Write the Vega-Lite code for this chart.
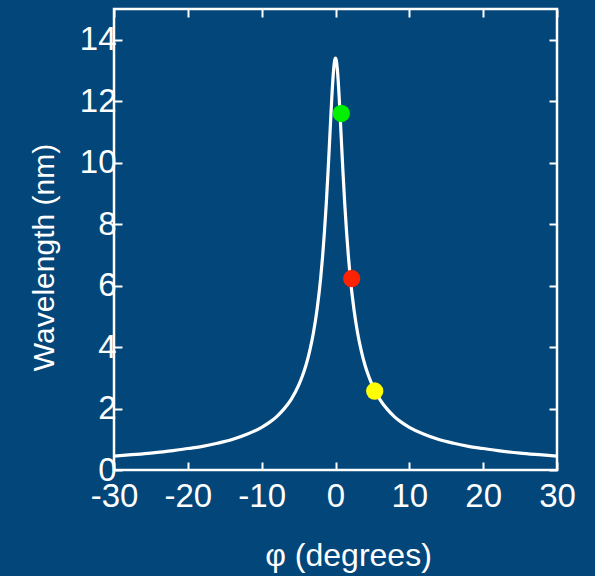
{
  "$schema": "https://vega.github.io/schema/vega-lite/v6.json",
  "width": 443,
  "height": 461,
  "autosize": "none",
  "padding": {"left": 114, "top": 9, "right": 38, "bottom": 106},
  "background": "#03467a",
  "config": {
    "view": {"stroke": "white", "strokeWidth": 2.5},
    "axis": {
      "labelColor": "white",
      "titleColor": "white",
      "tickColor": "white",
      "tickWidth": 2,
      "tickSize": -8,
      "domain": false,
      "grid": false,
      "labelFont": "Liberation Sans",
      "titleFont": "Liberation Sans",
      "titleFontWeight": "normal",
      "labelFlush": false,
      "labelOverlap": false
    }
  },
  "datasets": {
    "curve": [
      {"phi": -30, "wl": 0.45}, {"phi": -28, "wl": 0.49}, {"phi": -25, "wl": 0.55}, {"phi": -22, "wl": 0.63},
      {"phi": -20, "wl": 0.70}, {"phi": -18, "wl": 0.77}, {"phi": -16, "wl": 0.87}, {"phi": -14, "wl": 0.99},
      {"phi": -12, "wl": 1.16}, {"phi": -10, "wl": 1.39}, {"phi": -9, "wl": 1.54}, {"phi": -8, "wl": 1.73},
      {"phi": -7, "wl": 1.98}, {"phi": -6, "wl": 2.30}, {"phi": -5, "wl": 2.75}, {"phi": -4.5, "wl": 3.05},
      {"phi": -4, "wl": 3.41}, {"phi": -3.5, "wl": 3.87}, {"phi": -3, "wl": 4.45}, {"phi": -2.5, "wl": 5.22},
      {"phi": -2, "wl": 6.27}, {"phi": -1.75, "wl": 6.94}, {"phi": -1.5, "wl": 7.74}, {"phi": -1.25, "wl": 8.67},
      {"phi": -1, "wl": 9.75}, {"phi": -0.75, "wl": 10.94}, {"phi": -0.5, "wl": 12.12}, {"phi": -0.25, "wl": 13.04},
      {"phi": -0.125, "wl": 13.31}, {"phi": 0, "wl": 13.40}, {"phi": 0.125, "wl": 13.31},
      {"phi": 0.25, "wl": 13.04}, {"phi": 0.5, "wl": 12.12}, {"phi": 0.75, "wl": 10.94}, {"phi": 1, "wl": 9.75},
      {"phi": 1.25, "wl": 8.67}, {"phi": 1.5, "wl": 7.74}, {"phi": 1.75, "wl": 6.94}, {"phi": 2, "wl": 6.27},
      {"phi": 2.5, "wl": 5.22}, {"phi": 3, "wl": 4.45}, {"phi": 3.5, "wl": 3.87}, {"phi": 4, "wl": 3.41},
      {"phi": 4.5, "wl": 3.05}, {"phi": 5, "wl": 2.75}, {"phi": 6, "wl": 2.30}, {"phi": 7, "wl": 1.98},
      {"phi": 8, "wl": 1.73}, {"phi": 9, "wl": 1.54}, {"phi": 10, "wl": 1.39}, {"phi": 12, "wl": 1.16},
      {"phi": 14, "wl": 0.99}, {"phi": 16, "wl": 0.87}, {"phi": 18, "wl": 0.77}, {"phi": 20, "wl": 0.70},
      {"phi": 22, "wl": 0.63}, {"phi": 25, "wl": 0.55}, {"phi": 28, "wl": 0.49}, {"phi": 30, "wl": 0.45}
    ],
    "dots": [
      {"phi": 0.79, "wl": 11.60, "state": "green"},
      {"phi": 2.19, "wl": 6.23, "state": "red"},
      {"phi": 5.31, "wl": 2.57, "state": "yellow"}
    ]
  },
  "layer": [
    {
      "data": {"name": "curve"},
      "mark": {"type": "line", "color": "white", "strokeWidth": 3.2, "interpolate": "monotone", "clip": true},
      "encoding": {
        "x": {
          "field": "phi", "type": "quantitative",
          "scale": {"domain": [-30, 30], "nice": false, "zero": false},
          "axis": {
            "orient": "bottom",
            "values": [-30, -20, -10, 0, 10, 20, 30],
            "labelExpr": "datum.value < 0 ? '-' + abs(datum.value) : '' + datum.value",
            "labelFont": "Liberation Sans",
            "labelFontSize": 33,
            "labelPadding": 18,
            "title": "φ (degrees)",
            "titleFontSize": 32,
            "titleX": 234,
            "titleY": 95,
            "titleAlign": "center",
            "titleBaseline": "alphabetic"
          }
        },
        "y": {
          "field": "wl", "type": "quantitative",
          "scale": {"domain": [0, 15], "nice": false},
          "axis": {
            "orient": "left",
            "values": [0, 2, 4, 6, 8, 10, 12, 14],
            "labelFont": "Liberation Sans",
            "labelFontSize": 33,
            "labelPadding": 6,
            "labelLimit": 200,
            "title": "Wavelength (nm)",
            "titleFontSize": 30,
            "titleAngle": -90,
            "titleX": -61,
            "titleY": 248,
            "titleAlign": "center",
            "titleBaseline": "alphabetic"
          }
        }
      }
    },
    {
      "data": {"name": "dots"},
      "mark": {"type": "point", "filled": true, "opacity": 1, "size": 300, "strokeWidth": 0},
      "encoding": {
        "x": {"field": "phi", "type": "quantitative", "axis": null},
        "y": {"field": "wl", "type": "quantitative", "axis": null},
        "color": {
          "field": "state", "type": "nominal",
          "scale": {"domain": ["green", "red", "yellow"], "range": ["#00f000", "#ff2200", "#ffff00"]},
          "legend": null
        }
      }
    },
    {
      "data": {"name": "dots"},
      "mark": {"type": "point", "opacity": 0},
      "encoding": {
        "x": {
          "field": "phi", "type": "quantitative",
          "axis": {"orient": "top", "values": [-30, -20, -10, 0, 10, 20, 30], "labels": false, "title": null}
        },
        "y": {
          "field": "wl", "type": "quantitative",
          "axis": {"orient": "right", "values": [0, 2, 4, 6, 8, 10, 12, 14], "labels": false, "title": null}
        }
      }
    }
  ],
  "resolve": {"axis": {"x": "independent", "y": "independent"}}
}
